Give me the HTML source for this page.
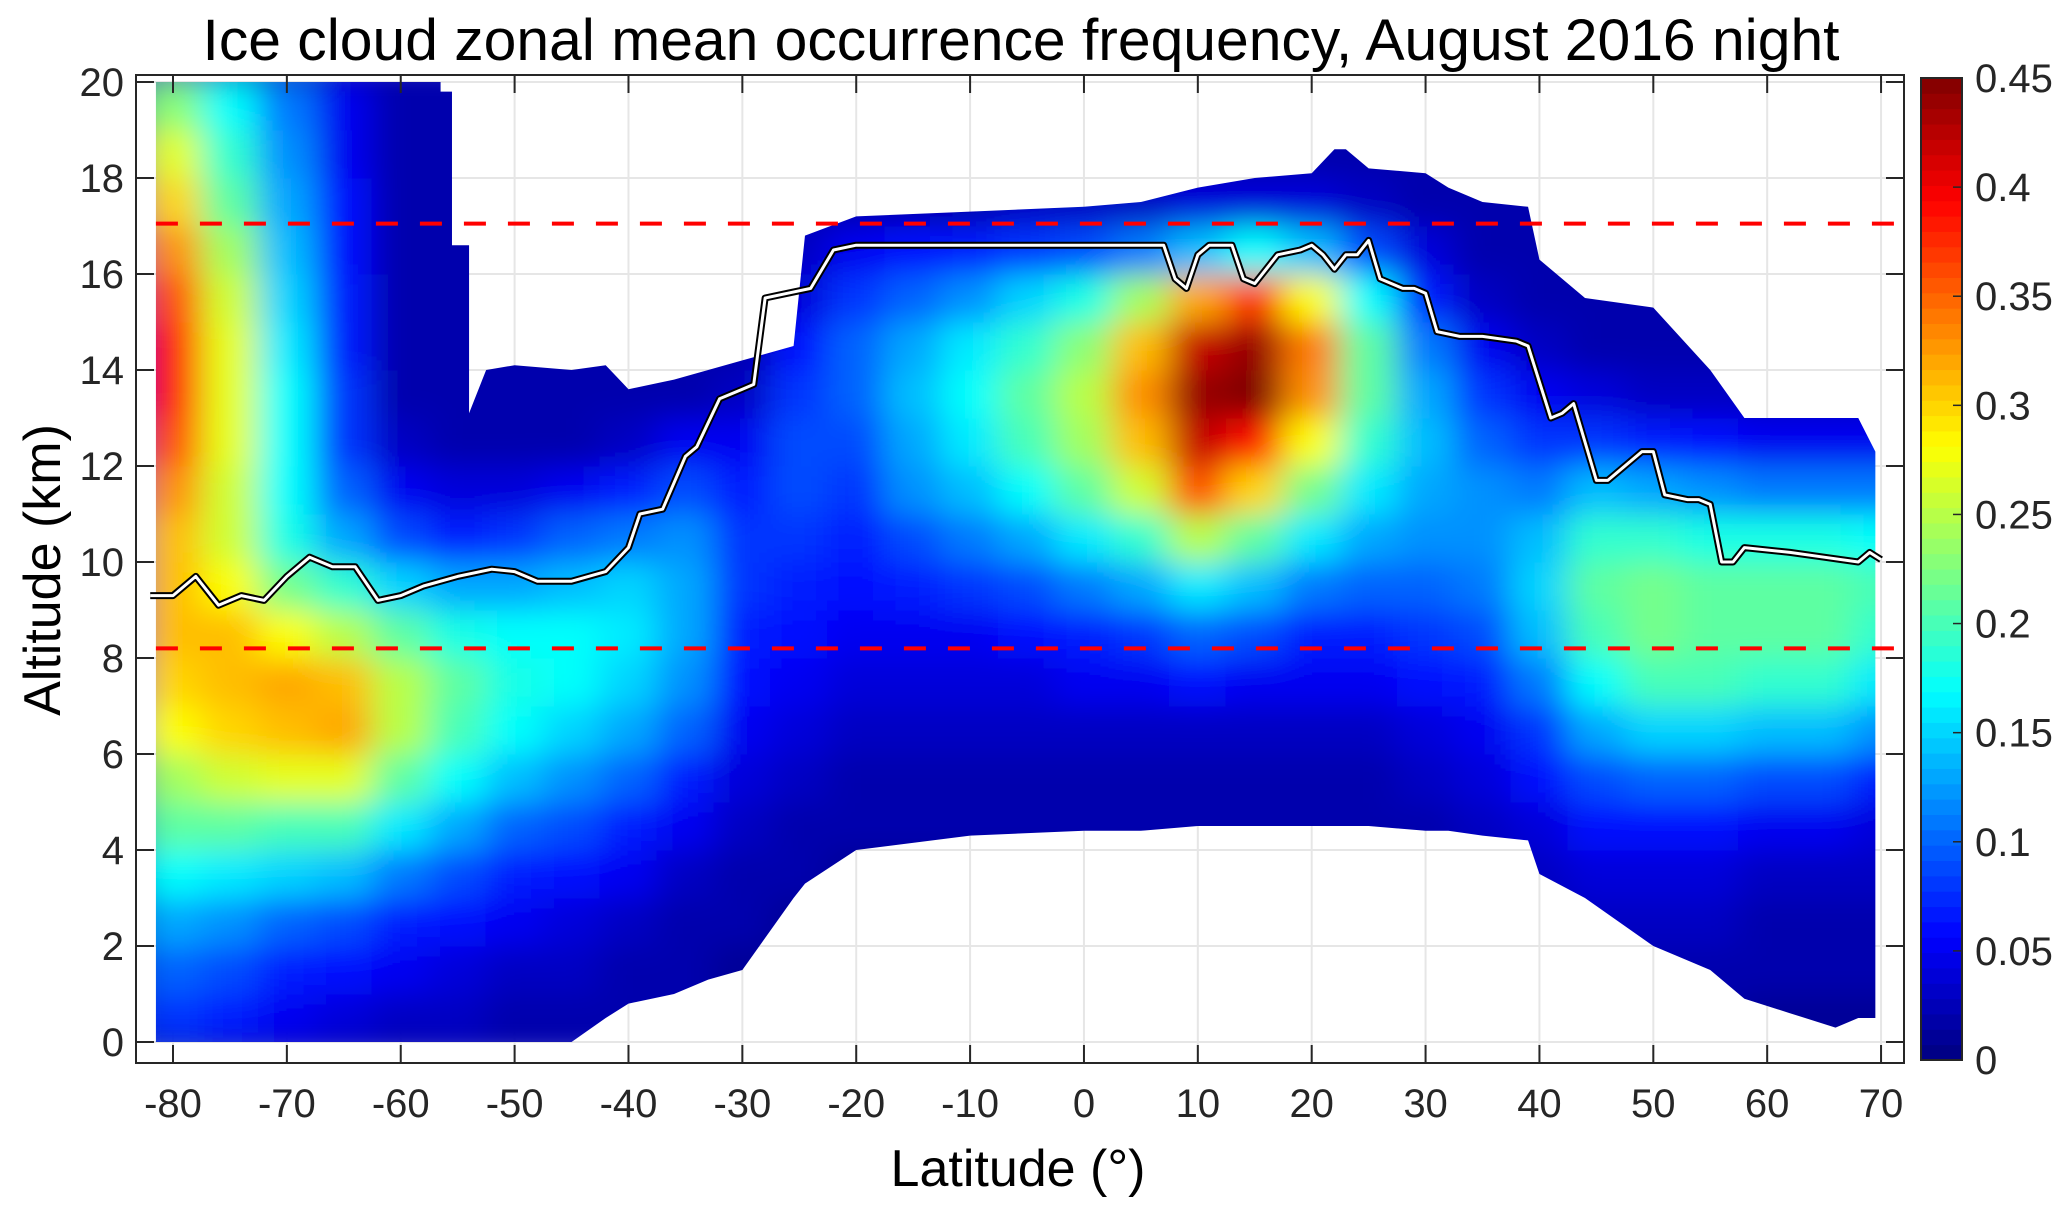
<!DOCTYPE html>
<html><head><meta charset="utf-8"><style>
html,body{margin:0;padding:0;background:#fff;}
svg{display:block;font-family:"Liberation Sans",Arial,sans-serif;}
</style></head><body>
<svg id="chart" width="2067" height="1217" viewBox="0 0 2067 1217" xmlns="http://www.w3.org/2000/svg">
<defs>
<filter id="blur" x="0" y="0" width="1" height="1" filterUnits="objectBoundingBox">
<feGaussianBlur stdDeviation="17 15" edgeMode="duplicate"/>
</filter>
<clipPath id="cloudClip"><polygon id="clipPoly" points=""/></clipPath>
<clipPath id="plotClip"><rect x="136" y="75" width="1768" height="988"/></clipPath>
</defs>
<rect x="0" y="0" width="2067" height="1217" fill="#fff"/>
<text x="1021" y="60" font-size="58" text-anchor="middle" textLength="1637" lengthAdjust="spacingAndGlyphs">Ice cloud zonal mean occurrence frequency, August 2016 night</text>
<g id="grid"></g>
<g clip-path="url(#plotClip)">
<g clip-path="url(#cloudClip)"><g id="cells" filter="url(#blur)"></g></g>
<g id="overlay"></g>
</g>
<rect x="136" y="75" width="1768" height="988" fill="none" stroke="#262626" stroke-width="2"/>
<g id="axes"></g>
<text transform="translate(60,570) rotate(-90)" font-size="52" text-anchor="middle">Altitude (km)</text>
<text x="1018" y="1186" font-size="52" text-anchor="middle">Latitude (°)</text>
<g id="cbar"></g>
</svg>
<script>
const latCenters=[-80,-75,-70,-65,-60,-55,-50,-45,-40,-35,-30,-25,-20,-15,-10,-5,0,5,10,15,20,25,30,35,40,45,50,55,60,65,70];
const altCenters=[0.5,1.5,2.5,3.5,4.5,5.5,6.5,7.5,8.5,9.5,10.5,11.5,12.5,13.5,14.5,15.5,16.5,17.5,18.5,19.5];
const freq=[
[.08,.10,.13,.17,.21,.24,.28,.30,.31,.31,.31,.33,.36,.38,.38,.36,.33,.30,.27,.23],
[.07,.09,.12,.16,.21,.26,.30,.31,.31,.28,.26,.26,.27,.27,.27,.26,.24,.21,.19,.17],
[.05,.07,.10,.15,.20,.27,.31,.32,.28,.22,.18,.17,.17,.17,.16,.15,.14,.13,.12,.11],
[.04,.06,.09,.14,.20,.27,.32,.31,.25,.19,.13,.10,.08,.08,.07,.07,.06,.06,.05,.05],
[.03,.05,.07,.11,.16,.21,.25,.25,.21,.15,.09,.05,.03,.02,.02,.02,.02,.02,.02,.02],
[.03,.04,.06,.09,.13,.17,.20,.21,.18,.13,.07,.04,.02,.02,.02,.02,.02,.02,.02,.02],
[.02,.03,.05,.07,.10,.14,.17,.18,.17,.13,.08,.04,.02,.02,.02,.02,.02,.02,.02,.02],
[.02,.03,.04,.06,.09,.12,.15,.17,.17,.14,.10,.05,.02,.02,.02,.02,.02,.02,.02,.02],
[.02,.02,.03,.05,.07,.10,.13,.15,.16,.15,.11,.07,.03,.02,.02,.02,.02,.02,.02,.02],
[.02,.02,.02,.03,.05,.07,.10,.12,.13,.13,.12,.09,.05,.02,.02,.02,.02,.02,.02,.02],
[.01,.01,.02,.02,.03,.04,.05,.06,.07,.08,.08,.07,.05,.03,.02,.02,.02,.02,.02,.02],
[.01,.01,.01,.02,.02,.03,.04,.05,.06,.07,.08,.09,.09,.08,.06,.04,.03,.02,.02,.02],
[.01,.01,.01,.01,.02,.02,.03,.04,.05,.06,.07,.08,.09,.10,.10,.08,.05,.02,.02,.02],
[.01,.01,.01,.01,.02,.02,.03,.04,.05,.07,.09,.12,.13,.14,.13,.10,.06,.02,.02,.02],
[.01,.01,.01,.01,.02,.02,.03,.04,.05,.08,.11,.14,.16,.17,.16,.12,.07,.02,.02,.02],
[.01,.01,.01,.01,.02,.02,.03,.04,.06,.09,.13,.17,.20,.21,.19,.15,.08,.03,.02,.02],
[.01,.01,.01,.01,.02,.02,.03,.05,.07,.11,.16,.21,.24,.25,.23,.18,.09,.03,.02,.02],
[.01,.01,.01,.01,.02,.02,.03,.05,.08,.13,.19,.26,.31,.33,.31,.24,.11,.03,.02,.02],
[.01,.01,.01,.01,.02,.02,.03,.06,.10,.16,.25,.36,.42,.44,.42,.32,.14,.04,.02,.02],
[.01,.01,.01,.01,.02,.02,.03,.05,.09,.14,.21,.30,.39,.45,.44,.37,.17,.04,.02,.02],
[.01,.01,.01,.01,.02,.02,.03,.05,.07,.11,.16,.22,.28,.33,.34,.28,.14,.04,.02,.02],
[.01,.01,.01,.01,.02,.02,.03,.05,.07,.10,.13,.16,.19,.21,.21,.17,.09,.03,.02,.02],
[.01,.01,.01,.02,.02,.03,.04,.06,.08,.10,.12,.13,.14,.13,.11,.07,.04,.02,.02,.02],
[.01,.01,.01,.02,.03,.04,.05,.07,.09,.11,.12,.12,.10,.08,.05,.03,.02,.02,.02,.02],
[.01,.01,.02,.03,.04,.06,.08,.11,.14,.15,.14,.11,.08,.05,.03,.02,.02,.02,.02,.02],
[.02,.02,.03,.04,.06,.09,.13,.17,.20,.21,.19,.14,.08,.04,.02,.02,.02,.02,.02,.02],
[.02,.02,.03,.04,.06,.10,.15,.20,.22,.22,.19,.13,.07,.03,.02,.02,.02,.02,.02,.02],
[.02,.02,.03,.04,.06,.10,.15,.20,.21,.21,.18,.12,.06,.03,.02,.02,.02,.02,.02,.02],
[.01,.02,.02,.03,.05,.09,.14,.19,.21,.21,.18,.11,.05,.03,.02,.02,.02,.02,.02,.02],
[.01,.02,.02,.03,.05,.09,.14,.19,.21,.21,.18,.11,.05,.03,.02,.02,.02,.02,.02,.02],
[.01,.02,.02,.03,.04,.07,.12,.16,.19,.20,.17,.11,.05,.03,.02,.02,.02,.02,.02,.02]];
const boundLat=[-81.5,-56.5,-56.5,-55.5,-55.5,-54,-54,-52.5,-50,-45,-42,-40,-36,-33,-30,-25.5,-24.5,-20,-10,0,5,10,15,20,22,23,25,30,32,35,39,40,44,50,55,58,62,66,68,69.5];
const boundTop=[20,20,19.8,19.8,16.6,16.6,13.1,14.0,14.1,14.0,14.1,13.6,13.8,14.0,14.2,14.5,16.8,17.2,17.3,17.4,17.5,17.8,18.0,18.1,18.6,18.6,18.2,18.1,17.8,17.5,17.4,16.3,15.5,15.3,14.0,13.0,13.0,13.0,13.0,12.3];
const boundBot=[0,0,0,0,0,0,0,0,0,0,0.5,0.8,1.0,1.3,1.5,3.0,3.3,4.0,4.3,4.4,4.4,4.5,4.5,4.5,4.5,4.5,4.5,4.4,4.4,4.3,4.2,3.5,3.0,2.0,1.5,0.9,0.6,0.3,0.5,0.5];
const tropLat=[-82,-80,-78,-76,-74,-72,-70,-68,-66,-64,-62,-60,-58,-55,-52,-50,-48,-45,-42,-40,-39,-37,-35,-34,-32,-30,-29,-28,-26,-24,-22,-20,-15,-10,0,7,8,9,10,11,13,14,15,17,19,20,21,22,23,24,25,26,28,29,30,31,33,35,38,39,41,42,43,45,46,47,49,50,51,53,54,55,56,57,58,62,65,68,69,70];
const tropAlt=[9.3,9.3,9.7,9.1,9.3,9.2,9.7,10.1,9.9,9.9,9.2,9.3,9.5,9.7,9.85,9.8,9.6,9.6,9.8,10.3,11.0,11.1,12.2,12.4,13.4,13.6,13.7,15.5,15.6,15.7,16.5,16.6,16.6,16.6,16.6,16.6,15.9,15.7,16.4,16.6,16.6,15.9,15.8,16.4,16.5,16.6,16.4,16.1,16.4,16.4,16.7,15.9,15.7,15.7,15.6,14.8,14.7,14.7,14.6,14.5,13.0,13.1,13.3,11.7,11.7,11.9,12.3,12.3,11.4,11.3,11.3,11.2,10.0,10.0,10.3,10.2,10.1,10.0,10.2,10.05];
const refLines=[17.05,8.2];
const xTicks=[-80,-70,-60,-50,-40,-30,-20,-10,0,10,20,30,40,50,60,70];
const yTicks=[0,2,4,6,8,10,12,14,16,18,20];
const cTicks=[0,0.05,0.1,0.15,0.2,0.25,0.3,0.35,0.4,0.45];
const cTickLabels=["0","0.05","0.1","0.15","0.2","0.25","0.3","0.35","0.4","0.45"];

const NS="http://www.w3.org/2000/svg";
const X=lat=>173+(lat+80)*11.387;
const Y=alt=>1042-alt*48;
const CY=v=>1060-(v/0.45)*982;
function clamp(v){return Math.max(0,Math.min(1,v));}
function jet(v){const t=clamp(v/0.45);const r=clamp(1.5-Math.abs(4*t-3)),g=clamp(1.5-Math.abs(4*t-2)),b=clamp(1.5-Math.abs(4*t-1));return `rgb(${Math.round(r*255)},${Math.round(g*255)},${Math.round(b*255)})`;}
function mk(tag,attrs,parent){const e=document.createElementNS(NS,tag);for(const k in attrs)e.setAttribute(k,attrs[k]);parent.appendChild(e);return e;}

const cells=document.getElementById('cells');
mk('rect',{x:120,y:60,width:1800,height:1000,fill:jet(0.02)},cells);
latCenters.forEach((lat,i)=>{altCenters.forEach((alt,j)=>{
  const x0=X(lat-2.5),x1=X(lat+2.5),y0=Y(alt+0.5),y1=Y(alt-0.5);
  const r=mk('rect',{x:x0-0.5,y:y0-0.5,width:x1-x0+1,height:y1-y0+1,fill:jet(freq[i][j])},cells);
  
  
});});
let pts=[];
boundLat.forEach((l,i)=>pts.push(X(l)+','+Y(boundTop[i])));
for(let i=boundLat.length-1;i>=0;i--)pts.push(X(boundLat[i])+','+Y(boundBot[i]));
document.getElementById('clipPoly').setAttribute('points',pts.join(' '));

const grid=document.getElementById('grid');
xTicks.forEach(t=>mk('line',{x1:X(t),x2:X(t),y1:75,y2:1063,stroke:'#e6e6e6','stroke-width':2},grid));
yTicks.forEach(t=>mk('line',{x1:136,x2:1904,y1:Y(t),y2:Y(t),stroke:'#e6e6e6','stroke-width':2},grid));

const ov=document.getElementById('overlay');
refLines.forEach((a,i)=>{const l=mk('line',{x1:X(-81.5),x2:1895,y1:Y(a),y2:Y(a),stroke:'#ff0000','stroke-width':4,'stroke-dasharray':'22 22'},ov);
 
 });
const tp=tropLat.map((l,i)=>X(l)+','+Y(tropAlt[i])).join(' ');
const tb=mk('polyline',{points:tp,fill:'none',stroke:'#000','stroke-width':7,'stroke-linejoin':'round'},ov);


const tw=mk('polyline',{points:tp,fill:'none',stroke:'#fff','stroke-width':3,'stroke-linejoin':'round'},ov);



const ax=document.getElementById('axes');
xTicks.forEach(t=>{
  mk('line',{x1:X(t),x2:X(t),y1:1063,y2:1045,stroke:'#262626','stroke-width':2},ax);
  mk('line',{x1:X(t),x2:X(t),y1:75,y2:93,stroke:'#262626','stroke-width':2},ax);
  const tx=mk('text',{x:X(t),y:1117,'font-size':40,'text-anchor':'middle',fill:'#262626'},ax);tx.textContent=t;
  
  
});
yTicks.forEach(t=>{
  mk('line',{x1:136,x2:154,y1:Y(t),y2:Y(t),stroke:'#262626','stroke-width':2},ax);
  mk('line',{x1:1904,x2:1886,y1:Y(t),y2:Y(t),stroke:'#262626','stroke-width':2},ax);
  const tx=mk('text',{x:124,y:Y(t)+14,'font-size':40,'text-anchor':'end',fill:'#262626'},ax);tx.textContent=t;
  
  
});

const cb=document.getElementById('cbar');
const N=64;
for(let k=0;k<N;k++){const v0=k/N*0.45,v1=(k+1)/N*0.45;
  mk('rect',{x:1921,y:CY(v1)-0.5,width:41,height:CY(v0)-CY(v1)+1,fill:jet((k+0.5)/N*0.45)},cb);}
mk('rect',{x:1921,y:CY(0.45),width:41,height:CY(0)-CY(0.45),fill:'none',stroke:'#262626','stroke-width':2},cb);
cTicks.forEach((t,i)=>{
  mk('line',{x1:1953,x2:1962,y1:CY(t),y2:CY(t),stroke:'#262626','stroke-width':1.5},cb);
  const tx=mk('text',{x:1975,y:CY(t)+14,'font-size':40,fill:'#262626'},cb);tx.textContent=cTickLabels[i];
  
  
});
</script>
</body></html>
